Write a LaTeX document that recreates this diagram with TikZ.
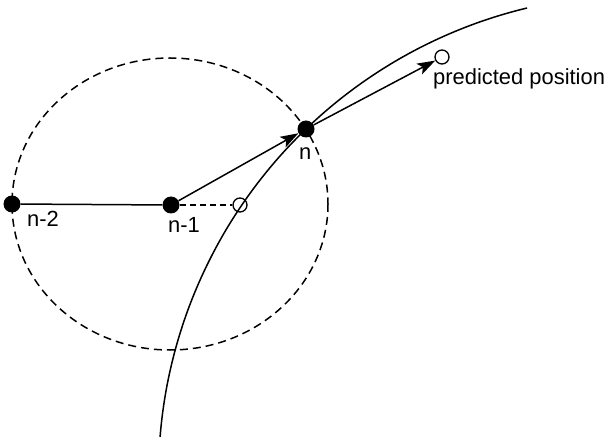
\documentclass[tikz,border=0pt]{standalone}
\usepackage{fontspec}
\setmainfont{Liberation Sans}
\usetikzlibrary{arrows.meta}
\begin{document}
\begin{tikzpicture}[x=1bp,y=-1bp,
  dot/.style={circle,fill=black,inner sep=0pt,minimum size=17bp},
  hollow/.style={circle,draw=black,line width=1.3bp,inner sep=0pt,minimum size=14bp},
  lbl/.style={font=\fontsize{22}{25}\selectfont,inner sep=0pt,anchor=base west},
  conn/.style={line width=1.5bp},
  arr/.style={conn,-{Stealth[length=18bp,width=12bp,inset=4bp]}},
  dsh/.style={line width=1.5bp,dash pattern=on 8bp off 5bp}]
\useasboundingbox (0,0) rectangle (608,440);
% dashed circle of reach
\draw[dsh] (170,204) ellipse [x radius=158, y radius=146];
% trajectory (circular arc)
\draw[conn] plot[domain=184.6:256.5,samples=80,smooth] ({639.3+480.8*cos(\x)},{475.5+480.8*sin(\x)});
% points
\node[dot] (n2) at (12,204) {};
\node[dot] (n1) at (171,205) {};
\node[dot] (n) at (306,129) {};
\node[hollow] (o) at (240,205) {};
\node[hollow] (p) at (442,57) {};
% connectors
\draw[conn] (n2) -- (n1);
\draw[conn,dash pattern=on 6bp off 4bp] (n1) -- (o);
\draw[arr] (n1) -- (n);
\draw[arr] (n) -- (p);
% labels
\node[lbl] (ln2) at (27,227) {n-2};
\node[lbl] (ln1) at (168,233) {n-1};
\node[lbl] (ln) at (299,160) {n};
\node[lbl] (lp) at (433,85) {predicted position};
\end{tikzpicture}
\end{document}
